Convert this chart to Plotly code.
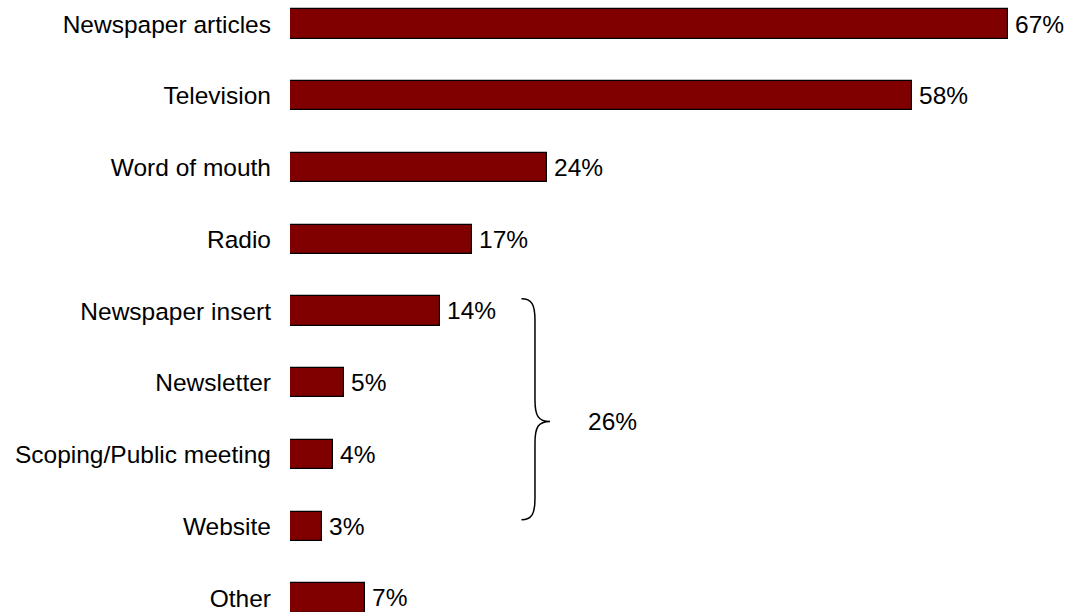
import plotly.graph_objects as go

# Source of awareness, share of respondents (%)
categories = [
    "Newspaper articles",
    "Television",
    "Word of mouth",
    "Radio",
    "Newspaper insert",
    "Newsletter",
    "Scoping/Public meeting",
    "Website",
    "Other",
]
values = [67, 58, 24, 17, 14, 5, 4, 3, 7]

# Categories grouped together by the brace
grouped = ["Newspaper insert", "Newsletter", "Scoping/Public meeting", "Website"]

BAR_COLOR = "#800000"
FONT = "Liberation Sans, Arial, sans-serif"
FONT_SIZE = 24.5

positions = list(range(len(categories)))

fig = go.Figure()
fig.add_trace(
    go.Bar(
        x=values,
        y=positions,
        orientation="h",
        width=0.41,
        marker=dict(color=BAR_COLOR, line=dict(color="#000000", width=1.2)),
        hoverinfo="skip",
    )
)

# Value labels at the end of each bar
for pos, val in zip(positions, values):
    fig.add_annotation(
        x=val, y=pos, xref="x", yref="y",
        text=f"{val}%", showarrow=False,
        xanchor="left", yanchor="middle", xshift=5,
        font=dict(family=FONT, size=FONT_SIZE, color="#000000"),
    )

# Brace spanning the grouped categories, with their combined share
g_idx = [categories.index(c) for c in grouped]
g_vals = [values[i] for i in g_idx]
g_total = sum(g_vals)
top = min(g_idx) - 0.17
bottom = max(g_idx) - 0.09
tip_y = top + 0.555 * (bottom - top)
stem_x = max(g_vals) + 8.86
end_x = stem_x - 1.26
tip_x = stem_x + 1.4
r = 0.3

path = (
    f"M {end_x},{top} "
    f"C {stem_x - 0.3},{top} {stem_x},{top + 0.08} {stem_x},{top + r} "
    f"L {stem_x},{tip_y - r} "
    f"C {stem_x},{tip_y - 0.08} {stem_x + 0.3},{tip_y} {tip_x},{tip_y} "
    f"C {stem_x + 0.3},{tip_y} {stem_x},{tip_y + 0.08} {stem_x},{tip_y + r} "
    f"L {stem_x},{bottom - r} "
    f"C {stem_x},{bottom - 0.08} {stem_x - 0.3},{bottom} {end_x},{bottom}"
)
fig.add_shape(
    type="path", path=path, xref="x", yref="y",
    line=dict(color="#000000", width=1.5),
)
fig.add_annotation(
    x=stem_x + 4.8, y=tip_y, xref="x", yref="y",
    text=f"{g_total}%", showarrow=False,
    xanchor="left", yanchor="middle",
    font=dict(family=FONT, size=FONT_SIZE, color="#000000"),
)

fig.update_layout(
    width=1068,
    height=612,
    margin=dict(l=290, r=60, t=0, b=0),
    paper_bgcolor="#ffffff",
    plot_bgcolor="#ffffff",
    showlegend=False,
    bargap=0,
    font=dict(family=FONT, size=FONT_SIZE, color="#000000"),
)
fig.update_xaxes(
    range=[0, max(values)],
    visible=False,
    showgrid=False,
    zeroline=False,
)
fig.update_yaxes(
    range=[8.1955, -0.3345],
    tickmode="array",
    tickvals=positions,
    ticktext=categories,
    ticks="",
    ticklabelstandoff=18,
    showgrid=False,
    zeroline=False,
    showline=False,
    tickfont=dict(family=FONT, size=FONT_SIZE, color="#000000"),
)

fig.write_html("out.html")
